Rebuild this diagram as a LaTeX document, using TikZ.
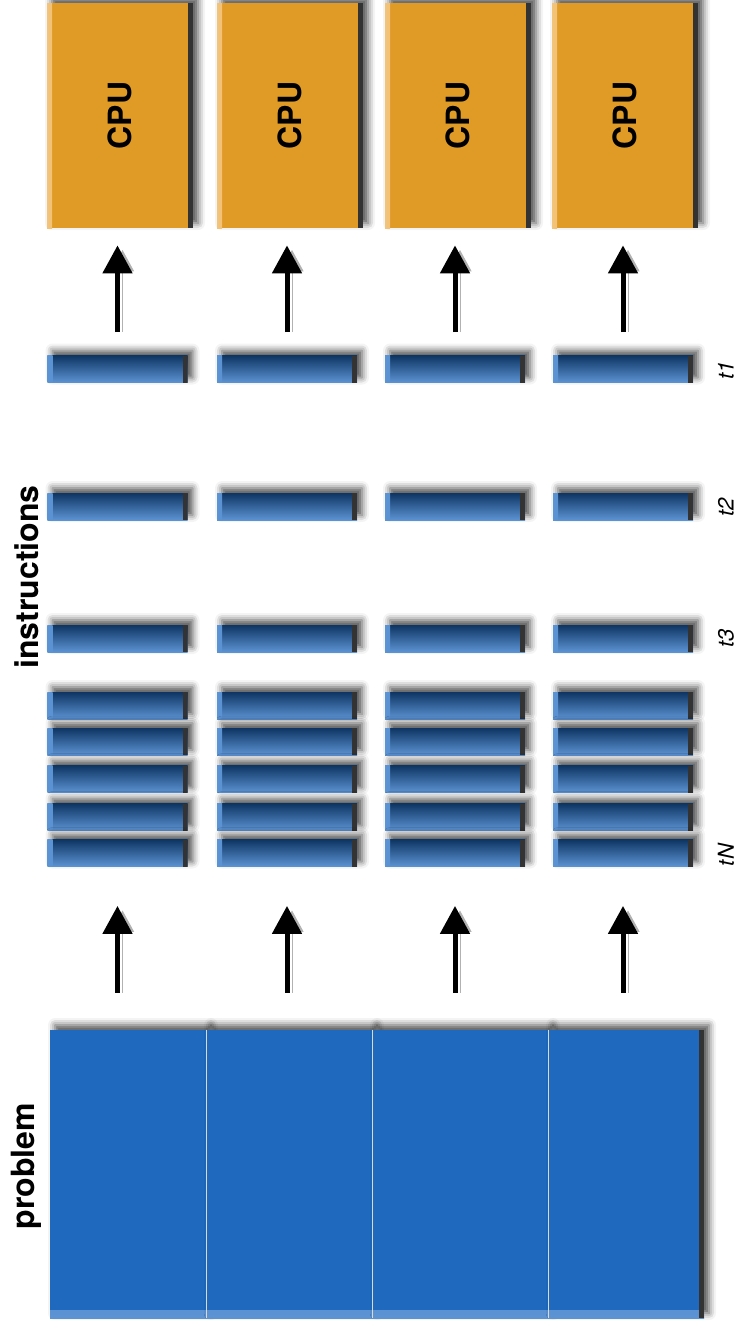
\documentclass[tikz,border=0pt]{standalone}
\usepackage{fontspec}
\setsansfont{TeX Gyre Heros}
\usetikzlibrary{arrows.meta}
\usetikzlibrary{shadows.blur}

\definecolor{barblue}{HTML}{1F6ABE}
\definecolor{bardark}{HTML}{0E3563}
\definecolor{barlight}{HTML}{5C93D3}
\definecolor{cpuorange}{HTML}{E09B26}
\definecolor{cpulight}{HTML}{F2C37A}

\tikzset{
  shadowed/.style={blur shadow={shadow xshift=2.5pt, shadow yshift=2.5pt,
      shadow blur radius=3.5pt, shadow opacity=70}},
  edges/.style 2 args={path picture={
      \shade[left color=#2, right color=#1] (path picture bounding box.north west)
        rectangle ([xshift=2.5pt]path picture bounding box.south west);
      \fill[black!80] ([xshift=-2.5pt]path picture bounding box.north east)
        rectangle (path picture bounding box.south east);
  }},
  instr/.style={rectangle, inner sep=0pt, minimum width=70pt, minimum height=13.5pt,
      top color=bardark, middle color=barblue, bottom color=barlight,
      shadowed, edges={barblue}{barlight}},
  cpu/.style={rectangle, inner sep=0pt, minimum width=73pt, minimum height=112.5pt,
      fill=cpuorange, shadowed, edges={cpuorange}{cpulight},
      font=\sffamily\bfseries\fontsize{16}{19}\selectfont},
  part/.style={rectangle, inner sep=0pt, minimum height=144pt, fill=barblue, shadowed,
      path picture={
        \shade[top color=barblue, bottom color=barlight] ([yshift=4pt]path picture bounding box.south west)
          rectangle (path picture bounding box.south east);
  }},
  lastpart/.style={part, path picture={
        \shade[top color=barblue, bottom color=barlight] ([yshift=4pt]path picture bounding box.south west)
          rectangle (path picture bounding box.south east);
        \fill[black!80] ([xshift=-2.5pt]path picture bounding box.north east)
          rectangle (path picture bounding box.south east);
  }},
  divider/.style={draw=gray!30, line width=0.8pt},
  title/.style={font=\sffamily\bfseries\fontsize{16}{19}\selectfont, rotate=90},
  tlabel/.style={font=\sffamily\itshape\fontsize{11}{13}\selectfont, rotate=90},
  arr/.style={line width=2.5pt, -{Triangle[width=14.5pt,length=14pt]},
      preaction={draw=black!30, transform canvas={xshift=2.5pt}}}
}

\begin{document}
\begin{tikzpicture}[x=0.5pt, y=-0.5pt]
      \useasboundingbox (0,0) rectangle (741,1335);

      % processors
      \node[cpu] (cpu1) at (120,115.5){\rotatebox{90}{CPU}};
      \node[cpu] (cpu2) at (290,115.5){\rotatebox{90}{CPU}};
      \node[cpu] (cpu3) at (458,115.5){\rotatebox{90}{CPU}};
      \node[cpu] (cpu4) at (625,115.5){\rotatebox{90}{CPU}};

      % instructions, row by row
      \node[instr] (t1a) at (117.5,369){};
      \node[instr] (t1b) at (287,369){};
      \node[instr] (t1c) at (455,369){};
      \node[instr] (t1d) at (623,369){};

      \node[instr] (t2a) at (117.5,506.5){};
      \node[instr] (t2b) at (287,506.5){};
      \node[instr] (t2c) at (455,506.5){};
      \node[instr] (t2d) at (623,506.5){};

      \node[instr] (t3a) at (117.5,638.5){};
      \node[instr] (t3b) at (287,638.5){};
      \node[instr] (t3c) at (455,638.5){};
      \node[instr] (t3d) at (623,638.5){};

      \node[instr] (t4a) at (117.5,705.5){};
      \node[instr] (t4b) at (287,705.5){};
      \node[instr] (t4c) at (455,705.5){};
      \node[instr] (t4d) at (623,705.5){};

      \node[instr] (t5a) at (117.5,741.5){};
      \node[instr] (t5b) at (287,741.5){};
      \node[instr] (t5c) at (455,741.5){};
      \node[instr] (t5d) at (623,741.5){};

      \node[instr] (t6a) at (117.5,779){};
      \node[instr] (t6b) at (287,779){};
      \node[instr] (t6c) at (455,779){};
      \node[instr] (t6d) at (623,779){};

      \node[instr] (t7a) at (117.5,817){};
      \node[instr] (t7b) at (287,817){};
      \node[instr] (t7c) at (455,817){};
      \node[instr] (t7d) at (623,817){};

      \node[instr] (tNa) at (117.5,853){};
      \node[instr] (tNb) at (287,853){};
      \node[instr] (tNc) at (455,853){};
      \node[instr] (tNd) at (623,853){};

      % the problem, split in four
      \node[part, minimum width=78pt] (p1) at (128,1174){};
      \node[part, minimum width=83pt] (p2) at (289,1174){};
      \node[part, minimum width=88pt] (p3) at (460,1174){};
      \node[lastpart, minimum width=78pt] (p4) at (626,1174){};
      \draw[divider] (p1.north east) -- (p1.south east);
      \draw[divider] (p2.north east) -- (p2.south east);
      \draw[divider] (p3.north east) -- (p3.south east);

      % labels
      \node[title] (prob) at (26,1166){problem};
      \node[title] (ins) at (27,577){instructions};
      \node[tlabel] (l1) at (726,370){t1};
      \node[tlabel] (l2) at (726,507){t2};
      \node[tlabel] (l3) at (726,638){t3};
      \node[tlabel] (lN) at (726,855){tN};

      \draw[arr, shorten <=18.5pt, shorten >=19.5pt] (p1.north -| tNa.south) -- (tNa.south);
      \draw[arr, shorten <=18.5pt, shorten >=19.5pt] (p2.north -| tNb.south) -- (tNb.south);
      \draw[arr, shorten <=18.5pt, shorten >=19.5pt] (p3.north -| tNc.south) -- (tNc.south);
      \draw[arr, shorten <=18.5pt, shorten >=19.5pt] (p4.north -| tNd.south) -- (tNd.south);

      \draw[arr, shorten <=11.5pt, shorten >=8.5pt] (t1a.north) -- (t1a.north |- cpu1.south);
      \draw[arr, shorten <=11.5pt, shorten >=8.5pt] (t1b.north) -- (t1b.north |- cpu2.south);
      \draw[arr, shorten <=11.5pt, shorten >=8.5pt] (t1c.north) -- (t1c.north |- cpu3.south);
      \draw[arr, shorten <=11.5pt, shorten >=8.5pt] (t1d.north) -- (t1d.north |- cpu4.south);
    \end{tikzpicture}
\end{document}
